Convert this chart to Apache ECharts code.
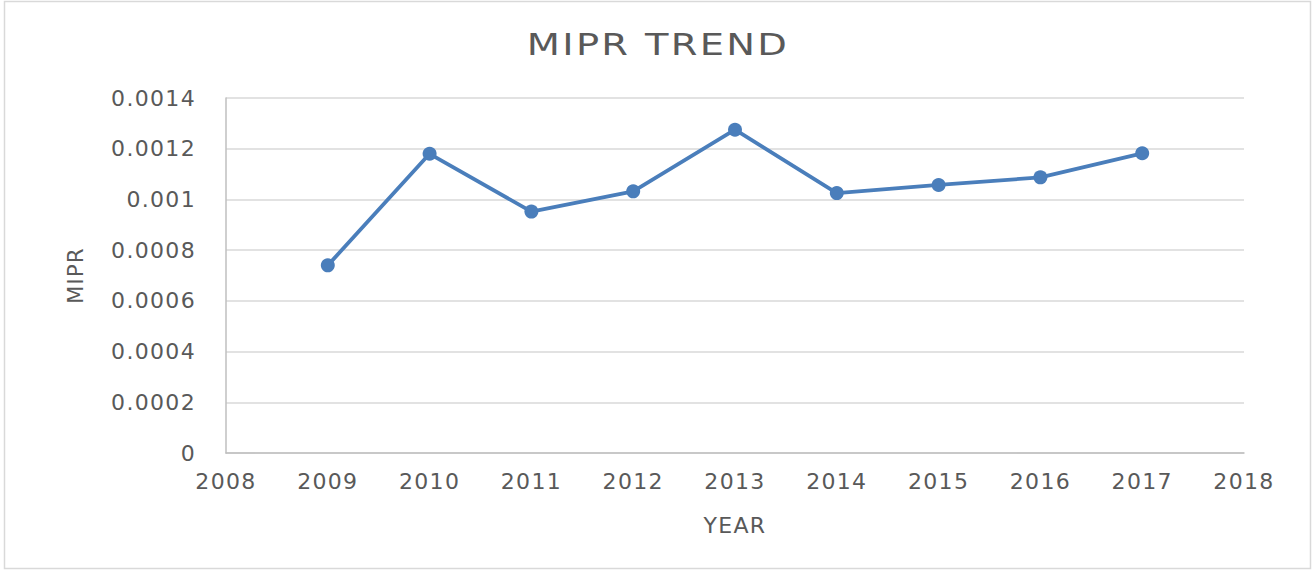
<!DOCTYPE html>
<html>
<head>
<meta charset="utf-8">
<script src="https://cdn.jsdelivr.net/npm/echarts@6/dist/echarts.min.js"></script>
<style>
html,body{margin:0;padding:0;background:#fff;}
#chart{width:1315px;height:571px;}
#chart svg text{letter-spacing:0.06em;}
</style>
</head>
<body>
<div id="chart"></div>
<script>
const years = [2009, 2010, 2011, 2012, 2013, 2014, 2015, 2016, 2017];
const mipr = [0.000740, 0.001180, 0.000952, 0.001032, 0.001275, 0.001025, 0.001057, 0.001087, 0.001182];
const titleText = 'MIPR TREND';
const xName = 'YEAR';
const yName = 'MIPR';

const txt = '#595959';
const font = '"DejaVu Sans", sans-serif';
const chart = echarts.init(document.getElementById('chart'), null, {renderer: 'svg'});
chart.setOption({
  animation: false,
  backgroundColor: '#fff',
  graphic: [{
    type: 'rect',
    shape: {x: 4.5, y: 1.5, width: 1306, height: 567},
    style: {fill: 'none', stroke: '#d9d9d9', lineWidth: 1.5},
    silent: true
  }, {
    type: 'text',
    x: 658, y: 44,
    scaleX: 1.24,
    style: {
      text: titleText,
      fill: txt,
      font: 'normal 31px "DejaVu Sans", sans-serif',
      align: 'center',
      verticalAlign: 'middle'
    },
    silent: true
  }],
  grid: {left: 226, right: 71, top: 98, bottom: 118},
  xAxis: {
    type: 'value',
    min: 2008, max: 2018, interval: 1,
    name: xName,
    nameLocation: 'middle',
    nameGap: 61,
    nameTextStyle: {color: txt, fontSize: 22, fontFamily: font},
    axisLine: {show: true, lineStyle: {color: '#bfbfbf', width: 1.5}},
    axisTick: {show: false},
    splitLine: {show: false},
    axisLabel: {color: txt, fontSize: 22, fontFamily: font, margin: 17, formatter: v => String(v)}
  },
  yAxis: {
    type: 'value',
    min: 0, max: 0.0014, interval: 0.0002,
    name: yName,
    nameLocation: 'middle',
    nameGap: 140,
    nameTextStyle: {color: txt, fontSize: 21, fontFamily: font},
    axisLine: {show: true, lineStyle: {color: '#bfbfbf', width: 1.5}},
    axisTick: {show: false},
    splitLine: {show: true, lineStyle: {color: '#d9d9d9', width: 1.5}},
    axisLabel: {color: txt, fontSize: 22, fontFamily: font, margin: 30}
  },
  series: [{
    type: 'line',
    data: years.map((y, i) => [y, mipr[i]]),
    symbol: 'circle',
    symbolSize: 14,
    lineStyle: {color: '#4a7ebb', width: 3.8},
    itemStyle: {color: '#4a7ebb'}
  }]
});
</script>
</body>
</html>
